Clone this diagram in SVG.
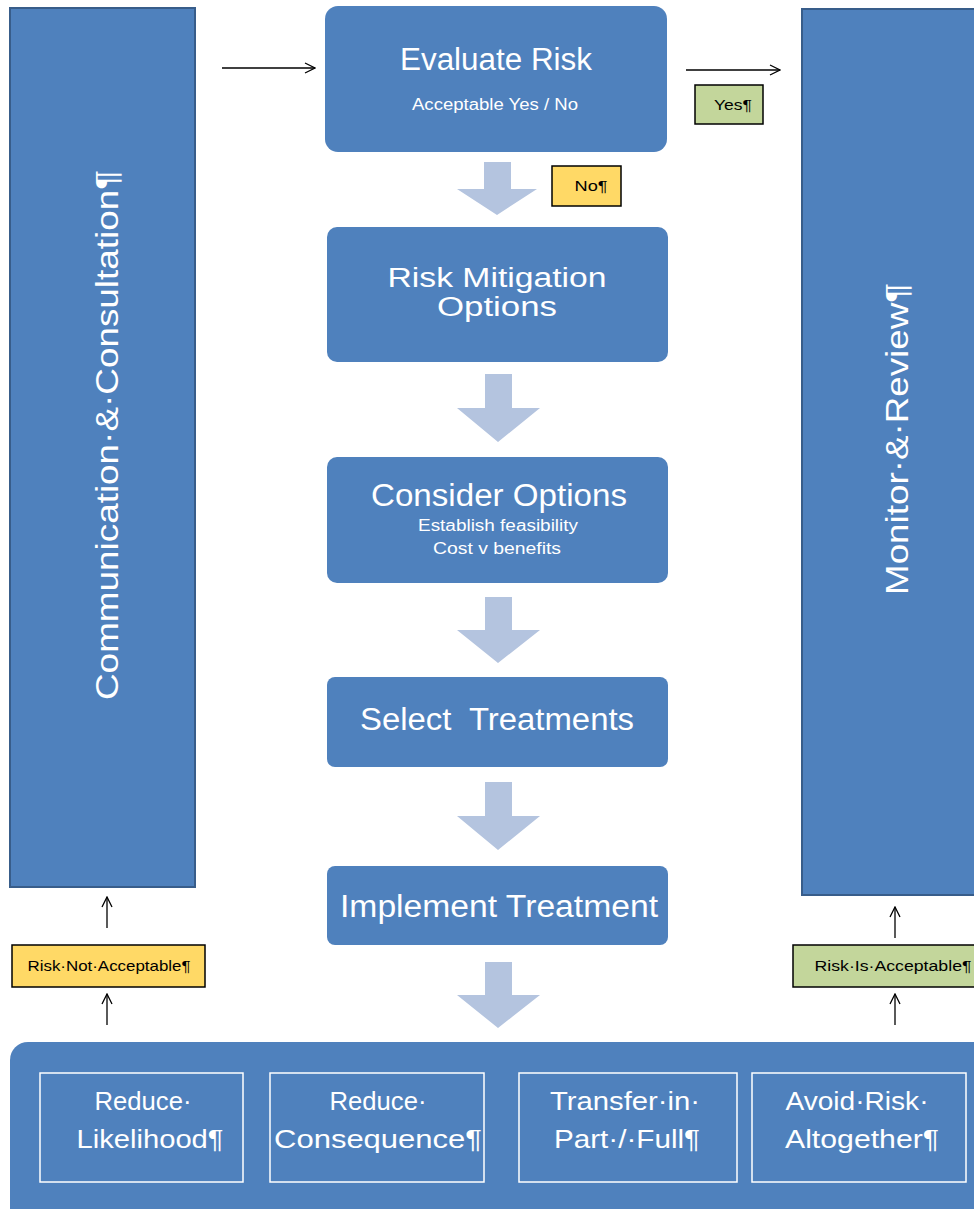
<svg xmlns="http://www.w3.org/2000/svg" width="974" height="1209" viewBox="0 0 974 1209">
<defs>
<style>
.box{fill:#4F81BD;}
.bar{fill:#4F81BD;stroke:#385D8A;stroke-width:2;}
.t{font-family:"Liberation Sans",Arial,sans-serif;fill:#fff;text-anchor:middle;}
.big{font-size:31px;}
.mid{font-size:27px;}
.sm{font-size:16px;}
.vert{font-size:32px;}
.bt{font-family:"Liberation Sans",Arial,sans-serif;fill:#fff;text-anchor:middle;font-size:25px;}
.lbl{font-family:"Liberation Sans",Arial,sans-serif;fill:#000;text-anchor:middle;font-size:15px;}
.yel{fill:#FFD966;stroke:#000;stroke-width:1.5;}
.grn{fill:#C3D69B;stroke:#000;stroke-width:1.5;}
.blk{fill:#B4C4DF;}
.ln{stroke:#000;stroke-width:1.3;fill:none;}
.inner{fill:none;stroke:#fff;stroke-width:1.5;}
</style>
<marker id="oa" viewBox="0 0 12 12" refX="11" refY="6" markerWidth="12" markerHeight="12" markerUnits="userSpaceOnUse" orient="auto">
<path d="M1,1 L11,6 L1,11" fill="none" stroke="#000" stroke-width="1.3"/>
</marker>
</defs>

<g id="comm">
<rect class="bar" x="10" y="8" width="185" height="879"/>
<text class="t vert" transform="translate(118,435) rotate(-90)" textLength="530" lengthAdjust="spacingAndGlyphs">Communication·&amp;·Consultation¶</text>
</g>

<g id="monitor">
<rect class="bar" x="802" y="9" width="180" height="886"/>
<text class="t vert" transform="translate(908,439) rotate(-90)" textLength="312" lengthAdjust="spacingAndGlyphs">Monitor·&amp;·Review¶</text>
</g>

<g id="evaluate">
<rect class="box" x="325" y="6" width="342" height="146" rx="13"/>
<text class="t big" x="496" y="70" textLength="192" lengthAdjust="spacingAndGlyphs">Evaluate Risk</text>
<text class="t sm" x="495" y="110" textLength="166" lengthAdjust="spacingAndGlyphs">Acceptable Yes / No</text>
</g>

<g id="mitigation">
<rect class="box" x="327" y="227" width="341" height="135" rx="10"/>
<text class="t mid" x="497" y="287" textLength="219" lengthAdjust="spacingAndGlyphs">Risk Mitigation</text>
<text class="t mid" x="497" y="316" textLength="120" lengthAdjust="spacingAndGlyphs">Options</text>
</g>

<g id="consider">
<rect class="box" x="327" y="457" width="341" height="126" rx="10"/>
<text class="t big" x="499" y="506" textLength="256" lengthAdjust="spacingAndGlyphs">Consider Options</text>
<text class="t sm" x="498" y="531" textLength="160" lengthAdjust="spacingAndGlyphs">Establish feasibility</text>
<text class="t sm" x="497" y="554" textLength="128" lengthAdjust="spacingAndGlyphs">Cost v benefits</text>
</g>

<g id="select">
<rect class="box" x="327" y="677" width="341" height="90" rx="8"/>
<text class="t big" x="497" y="730" xml:space="preserve" textLength="274" lengthAdjust="spacingAndGlyphs">Select  Treatments</text>
</g>

<g id="implement">
<rect class="box" x="327" y="866" width="341" height="79" rx="8"/>
<text class="t big" x="499" y="917" textLength="318" lengthAdjust="spacingAndGlyphs">Implement Treatment</text>
</g>

<g id="options">
<rect class="box" x="10" y="1042" width="990" height="190" rx="18"/>
<rect class="inner" x="40" y="1073" width="203" height="109"/>
<text class="bt" x="143" y="1110" textLength="97" lengthAdjust="spacingAndGlyphs">Reduce·</text>
<text class="bt" x="150" y="1148" textLength="147" lengthAdjust="spacingAndGlyphs">Likelihood¶</text>
<rect class="inner" x="270" y="1073" width="214" height="109"/>
<text class="bt" x="378" y="1110" textLength="97" lengthAdjust="spacingAndGlyphs">Reduce·</text>
<text class="bt" x="378" y="1148" textLength="208" lengthAdjust="spacingAndGlyphs">Consequence¶</text>
<rect class="inner" x="519" y="1073" width="218" height="109"/>
<text class="bt" x="625" y="1110" textLength="150" lengthAdjust="spacingAndGlyphs">Transfer·in·</text>
<text class="bt" x="627" y="1148" textLength="146" lengthAdjust="spacingAndGlyphs">Part·/·Full¶</text>
<rect class="inner" x="752" y="1073" width="214" height="109"/>
<text class="bt" x="857" y="1110" textLength="143" lengthAdjust="spacingAndGlyphs">Avoid·Risk·</text>
<text class="bt" x="862" y="1148" textLength="154" lengthAdjust="spacingAndGlyphs">Altogether¶</text>
</g>

<g id="label-yes">
<rect class="grn" x="695" y="85" width="68" height="39"/>
<text class="lbl" x="733" y="110" textLength="38" lengthAdjust="spacingAndGlyphs">Yes¶</text>
</g>
<g id="label-no">
<rect class="yel" x="552" y="166" width="69" height="40"/>
<text class="lbl" x="591" y="191" textLength="33" lengthAdjust="spacingAndGlyphs">No¶</text>
</g>
<g id="label-notacc">
<rect class="yel" x="12" y="945" width="193" height="42"/>
<text class="lbl" x="109" y="971" textLength="163" lengthAdjust="spacingAndGlyphs">Risk·Not·Acceptable¶</text>
</g>
<g id="label-isacc">
<rect class="grn" x="793" y="945" width="185" height="42"/>
<text class="lbl" x="893" y="971" textLength="157" lengthAdjust="spacingAndGlyphs">Risk·Is·Acceptable¶</text>
</g>

<g id="connectors">
<line class="ln" x1="222" y1="68" x2="315" y2="68" marker-end="url(#oa)"/>
<line class="ln" x1="686" y1="70" x2="780" y2="70" marker-end="url(#oa)"/>
<line class="ln" x1="107" y1="928" x2="107" y2="897" marker-end="url(#oa)"/>
<line class="ln" x1="107" y1="1025" x2="107" y2="994" marker-end="url(#oa)"/>
<line class="ln" x1="895" y1="938" x2="895" y2="907" marker-end="url(#oa)"/>
<line class="ln" x1="895" y1="1025" x2="895" y2="994" marker-end="url(#oa)"/>
<path class="blk" d="M484,162 H511 V189 H537 L497,215 L457,189 H484 Z"/>
<path class="blk" d="M485,374 H512 V408 H540 L498,442 L457,408 H485 Z"/>
<path class="blk" d="M485,597 H512 V630 H540 L498,663 L457,630 H485 Z"/>
<path class="blk" d="M485,782 H512 V816 H540 L498,850 L457,816 H485 Z"/>
<path class="blk" d="M485,962 H512 V995 H540 L498,1028 L457,995 H485 Z"/>
</g>
</svg>
